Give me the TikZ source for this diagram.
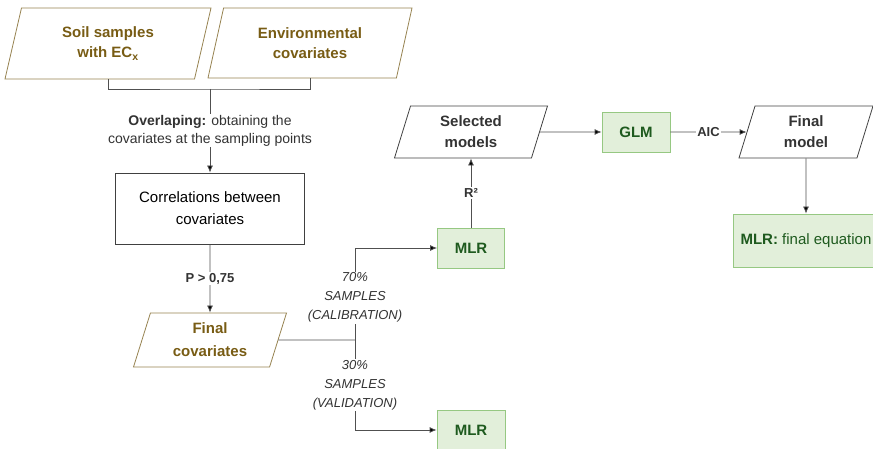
\documentclass[tikz,border=0pt]{standalone}
\usepackage{fontspec}
\setmainfont{Liberation Sans}
\usetikzlibrary{shapes,arrows,arrows.meta}
\definecolor{inputline}{RGB}{150,130,80}
\definecolor{inputtext}{RGB}{120,92,20}
\definecolor{greenfill}{RGB}{226,239,218}
\definecolor{greenline}{RGB}{150,200,130}
\definecolor{greentext}{RGB}{30,90,30}
\definecolor{linegray}{RGB}{80,80,80}

\begin{document}
\begin{tikzpicture}[x=1pt,y=-1pt,>={Latex[length=7pt,width=6pt,fill=black]},line width=0.8pt,
	every node/.style={font=\fontsize{15}{20}\selectfont},
	data/.style={trapezium, trapezium left angle=66, trapezium right angle=114, trapezium stretches body, draw, align=center, inner sep=2pt},
	input/.style={data, draw=inputline, text=inputtext, font=\fontsize{15}{20}\selectfont\bfseries},
	process/.style={rectangle, draw=greenline, fill=greenfill, text=greentext, font=\fontsize{15}{20}\selectfont\bfseries},
	edgetext/.style={fill=white, inner sep=1pt, align=center, text=black!80, font=\fontsize{13}{19}\selectfont}]
					\useasboundingbox (0,0) rectangle (873,449);
					\clip (0,0) rectangle (873,449);
					% inputs
					\node[input, minimum width=206, minimum height=71] (soil) at (108,43.5) {Soil samples\\with EC\textsubscript{x}};
					\node[input, minimum width=204, minimum height=70] (env) at (310,43) {Environmental\\covariates};
					\coordinate (merge) at (210,89);
					\node[draw=black!75, minimum width=189, minimum height=71, align=center, font=\fontsize{15}{22}\selectfont] (corr) at (210,208.5) {Correlations between\\covariates};
					\node[input, minimum width=153, minimum height=54, font=\fontsize{15}{23}\selectfont\bfseries] (fincov) at (210,340) {Final\\covariates};
					% models
					\coordinate (split) at (355,340);
					\node[process, minimum width=67, minimum height=40] (mlrcal) at (471,248) {MLR};
					\node[process, minimum width=68, minimum height=40] (mlrval) at (471,430) {MLR};
					\node[data, draw=black!75, text=black!80, font=\fontsize{15}{21}\selectfont\bfseries, minimum width=153, minimum height=52] (selmod) at (471,132) {Selected\\models};
					\node[process, minimum width=68, minimum height=40] (glm) at (636,132) {GLM};
					\node[data, draw=black!75, text=black!80, font=\fontsize{15}{21}\selectfont\bfseries, minimum width=134, minimum height=52] (finmod) at (806,132) {Final\\model};
					\node[process, minimum width=146, minimum height=53, font=\fontsize{15}{20}\selectfont] (fineq) at (806,240.5) {\textbf{MLR:} final equation};
					% connectors
					\draw[linegray] (soil.south) |- (merge) -| (env.south);
					\draw[->, linegray] (merge) -- (corr) node[midway, edgetext, font=\fontsize{14}{18}\selectfont] {\textbf{Overlaping:} obtaining the\\covariates at the sampling points};
					\draw[->, linegray] (corr) -- (fincov) node[midway, edgetext, font=\fontsize{13}{15}\selectfont\bfseries] {P > 0,75};
					\draw[linegray] (fincov.east) -- (split);
					\draw[->, linegray] (split) |- (mlrcal) node[pos=0.23, edgetext] {\itshape 70\%\\\itshape SAMPLES\\\itshape (CALIBRATION)};
					\draw[->, linegray] (split) |- (mlrval) node[pos=0.25, edgetext] {\itshape 30\%\\\itshape SAMPLES\\\itshape (VALIDATION)};
					\draw[->, linegray] (mlrcal) -- (selmod) node[midway, edgetext, font=\fontsize{13}{15}\selectfont\bfseries] {R²};
					\draw[->, linegray] (selmod) -- (glm);
					\draw[->, linegray] (glm) -- (finmod) node[midway, edgetext, font=\fontsize{13}{15}\selectfont\bfseries] {AIC};
					\draw[->, linegray] (finmod) -- (fineq);
				\end{tikzpicture}
\end{document}
